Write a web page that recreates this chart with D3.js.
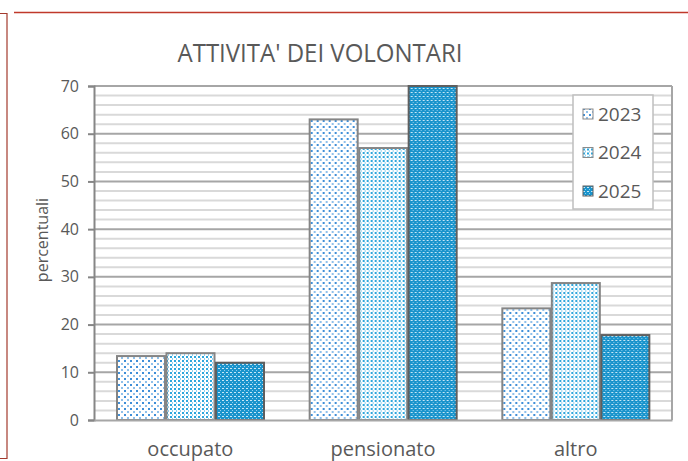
<!DOCTYPE html>
<html>
<head>
<meta charset="utf-8">
<script src="https://cdn.jsdelivr.net/npm/d3@7"></script>
<style>
  body { margin: 0; background: #fff; }
  svg { display: block; font-family: "Open Sans", sans-serif; }
</style>
</head>
<body>
<div id="chart"></div>
<script>
// chart data
var categories = ["occupato", "pensionato", "altro"];
var years = ["2023", "2024", "2025"];
var values2023 = [13.4, 63, 23.4];
var values2024 = [14, 57, 28.7];
var values2025 = [12, 70, 17.8];
var yTicks = [0, 10, 20, 30, 40, 50, 60, 70];

var series = [values2023, values2024, values2025];

var width = 688, height = 461;
var plotLeft = 94, plotRight = 672, plotTop = 86, plotBottom = 420;

var svg = d3.select("#chart").append("svg")
    .attr("width", width)
    .attr("height", height);

// fill patterns
var defs = svg.append("defs");

var p1 = defs.append("pattern").attr("id", "pat0")
    .attr("patternUnits", "userSpaceOnUse").attr("width", 6).attr("height", 6);
p1.append("rect").attr("width", 6).attr("height", 6).attr("fill", "#ffffff");
p1.append("rect").attr("x", 0).attr("y", 0).attr("width", 2).attr("height", 2).attr("fill", "#3f8fd8");
p1.append("rect").attr("x", 3).attr("y", 3).attr("width", 2).attr("height", 2).attr("fill", "#8fc0ea");

var p2 = defs.append("pattern").attr("id", "pat1")
    .attr("patternUnits", "userSpaceOnUse").attr("width", 4).attr("height", 4);
p2.append("rect").attr("width", 4).attr("height", 4).attr("fill", "#ffffff");
p2.append("rect").attr("x", 0).attr("y", 0).attr("width", 2).attr("height", 2).attr("fill", "#2ea6dc");
p2.append("rect").attr("x", 2).attr("y", 2).attr("width", 1).attr("height", 2).attr("fill", "#8fd0ef");

var p3 = defs.append("pattern").attr("id", "pat2")
    .attr("patternUnits", "userSpaceOnUse").attr("width", 4).attr("height", 4);
p3.append("rect").attr("width", 4).attr("height", 4).attr("fill", "#1a94cc");
p3.append("rect").attr("x", 0).attr("y", 0).attr("width", 2).attr("height", 1).attr("fill", "#c8e8f6");
p3.append("rect").attr("x", 2).attr("y", 2).attr("width", 1).attr("height", 1).attr("fill", "#8fd0f0");

// red frame lines
svg.append("line").attr("x1", 14).attr("x2", 688).attr("y1", 12.5).attr("y2", 12.5)
    .attr("stroke", "#c0392b").attr("stroke-width", 1.5);
svg.append("polyline").attr("points", "0,13.5 7,13.5 7,458.5 0,458.5")
    .attr("fill", "none").attr("stroke", "#a33a2e").attr("stroke-width", 1.2);

// scales
var y = d3.scaleLinear().domain([0, 70]).range([plotBottom, plotTop]);
var x0 = d3.scaleBand().domain(categories).range([plotLeft, plotRight]).padding(0);
var x1 = d3.scaleBand().domain(years).range([23, 170]).paddingInner(0.03);

// gridlines
var minor = d3.range(0, 71, 2).filter(function(d) { return d % 10 !== 0; });
svg.append("g").selectAll("line").data(minor).enter().append("line")
    .attr("x1", plotLeft).attr("x2", plotRight)
    .attr("y1", function(d) { return y(d); })
    .attr("y2", function(d) { return y(d); })
    .attr("stroke", "#d9d9d9").attr("stroke-width", 2);
svg.append("g").selectAll("line").data(yTicks.slice(1)).enter().append("line")
    .attr("x1", plotLeft).attr("x2", plotRight)
    .attr("y1", function(d) { return y(d); })
    .attr("y2", function(d) { return y(d); })
    .attr("stroke", "#a6a6a6").attr("stroke-width", 2);

// right border
svg.append("line").attr("x1", plotRight).attr("x2", plotRight).attr("y1", plotTop).attr("y2", plotBottom)
    .attr("stroke", "#a6a6a6").attr("stroke-width", 2);

// bars
var groups = svg.append("g").selectAll("g").data(categories).enter().append("g")
    .attr("transform", function(d) { return "translate(" + x0(d) + ",0)"; });

groups.selectAll("rect")
    .data(function(d, i) { return years.map(function(yr, j) { return { year: yr, idx: j, value: series[j][i] }; }); })
    .enter().append("rect")
    .attr("x", function(d) { return x1(d.year); })
    .attr("y", function(d) { return y(d.value); })
    .attr("width", x1.bandwidth())
    .attr("height", function(d) { return plotBottom - y(d.value); })
    .attr("fill", function(d) { return "url(#pat" + d.idx + ")"; })
    .attr("stroke", function(d) { return d.idx === 2 ? "#5f5f5f" : "#858585"; })
    .attr("stroke-width", 2);

// y axis
var yAxis = svg.append("g")
    .attr("transform", "translate(" + plotLeft + ",0)")
    .call(d3.axisLeft(y).tickValues(yTicks).tickSize(6).tickPadding(9));
yAxis.select(".domain").attr("stroke", "#868686").attr("stroke-width", 2);
yAxis.selectAll(".tick line").attr("stroke", "#868686").attr("stroke-width", 2);
yAxis.selectAll(".tick text")
    .attr("fill", "#595959")
    .style("font-size", "16px")
    .style("font-family", "'Open Sans', sans-serif");

// x axis
var xAxis = svg.append("g")
    .attr("transform", "translate(0," + plotBottom + ")")
    .call(d3.axisBottom(x0).tickSize(0).tickPadding(22));
xAxis.select(".domain").attr("stroke", "#a6a6a6").attr("stroke-width", 2);
xAxis.selectAll(".tick text")
    .attr("fill", "#595959")
    .style("font-size", "20px")
    .style("font-family", "'Open Sans', sans-serif");

// axis title
svg.append("text")
    .attr("transform", "translate(48,240) rotate(-90)")
    .attr("text-anchor", "middle")
    .attr("fill", "#595959")
    .style("font-size", "16px")
    .text("percentuali");

// chart title
svg.append("text")
    .attr("x", 320).attr("y", 62)
    .attr("text-anchor", "middle")
    .attr("fill", "#595959")
    .attr("textLength", 285)
    .attr("lengthAdjust", "spacingAndGlyphs")
    .style("font-size", "26px")
    .text("ATTIVITA' DEI VOLONTARI");

// legend
var legend = svg.append("g").attr("transform", "translate(573,95)");
legend.append("rect").attr("width", 80).attr("height", 114)
    .attr("fill", "#ffffff").attr("stroke", "#bfbfbf").attr("stroke-width", 1.5);
var item = legend.selectAll("g").data(years).enter().append("g")
    .attr("transform", function(d, i) { return "translate(10," + (19 + i * 38.5) + ")"; });
item.append("rect")
    .attr("x", 0).attr("y", -5).attr("width", 10).attr("height", 10)
    .attr("fill", function(d, i) { return "url(#pat" + i + ")"; })
    .attr("stroke", function(d, i) { return i === 2 ? "#5f5f5f" : "#8a8a8a"; })
    .attr("stroke-width", 1);
item.append("text")
    .attr("x", 15).attr("dy", "0.36em")
    .attr("fill", "#595959")
    .style("font-size", "19px")
    .text(function(d) { return d; });
</script>
</body>
</html>
